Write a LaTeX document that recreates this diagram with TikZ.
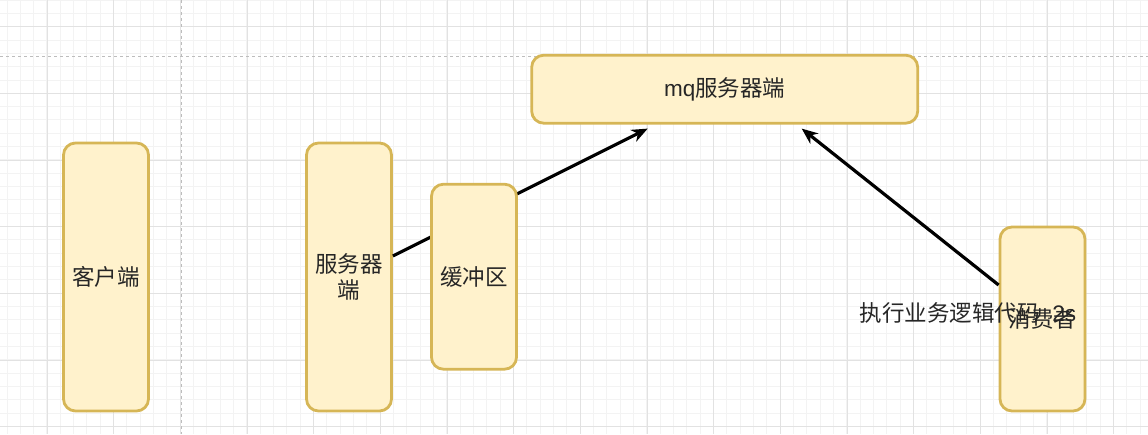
\documentclass[tikz,border=0pt]{standalone}
\usepackage{fontspec}
\setmainfont{Liberation Sans}
\newfontfamily\cjk{Noto Sans CJK SC}
\usetikzlibrary{arrows.meta}
\definecolor{boxfill}{HTML}{FFF2CC}
\definecolor{boxline}{HTML}{D6B656}
\definecolor{gridminor}{HTML}{F3F3F3}
\definecolor{gridmajor}{HTML}{E2E2E2}
\definecolor{guide}{HTML}{BDBDBD}
\definecolor{txt}{HTML}{262626}
\begin{document}
\begin{tikzpicture}[x=1pt, y=-1pt, font=\fontsize{22.5}{26}\selectfont, line join=round,
	box/.style={draw=boxline, fill=boxfill, line width=2.8pt, rounded corners=12pt,
		inner sep=0pt, align=center, text=txt},
	flow/.style={line width=3.2pt, -{Stealth[length=16pt,width=13pt,inset=5pt]}}]
	\useasboundingbox (0,0) rectangle (1148,434);
	% grid
	\foreach \i in {0,...,86} \draw[gridminor, line width=1pt] ({7+13.333*\i},0) -- ++(0,434);
	\foreach \j in {0,...,33} \draw[gridminor, line width=1pt] (0,{13.333*\j}) -- ++(1148,0);
	\foreach \i in {0,...,17} \draw[gridmajor, line width=1pt] ({47+66.667*\i},0) -- ++(0,434);
	\foreach \j in {0,...,6} \draw[gridmajor, line width=1pt] (0,{26.667+66.667*\j}) -- ++(1148,0);
	\draw[guide, line width=1pt, dash pattern=on 3pt off 3pt] (181,0) -- (181,434) (0,56.7) -- (1148,56.7);
	% boxes
	\node[box, minimum width=85pt, minimum height=268pt] (kh) at (106,277) {\cjk 客户端};
	\node[box, minimum width=85pt, minimum height=268pt] (srv) at (349,277) {\cjk 服务器\\\cjk 端};
	\node[box, minimum width=386pt, minimum height=68pt] (mq) at (724.7,89.2) {mq{\cjk 服务器端}};
	\node[box, minimum width=85pt, minimum height=184pt] (xf) at (1042.5,319) {\cjk 消费者};
	\draw[flow] ([shift={(0,-21)}]srv.east) -- ([shift={(-77,4)}]mq.south);
	\draw[flow] ([shift={(0,-34)}]xf.west) -- ([shift={(77,4)}]mq.south);
	\node[box, minimum width=85pt, minimum height=185pt] (buf) at (474,276.7) {\cjk 缓冲区};
	\node[text=txt, inner sep=0pt] (note) at (968,313) {{\cjk 执行业务逻辑代码}\ \ 2s};
\end{tikzpicture}
\end{document}
